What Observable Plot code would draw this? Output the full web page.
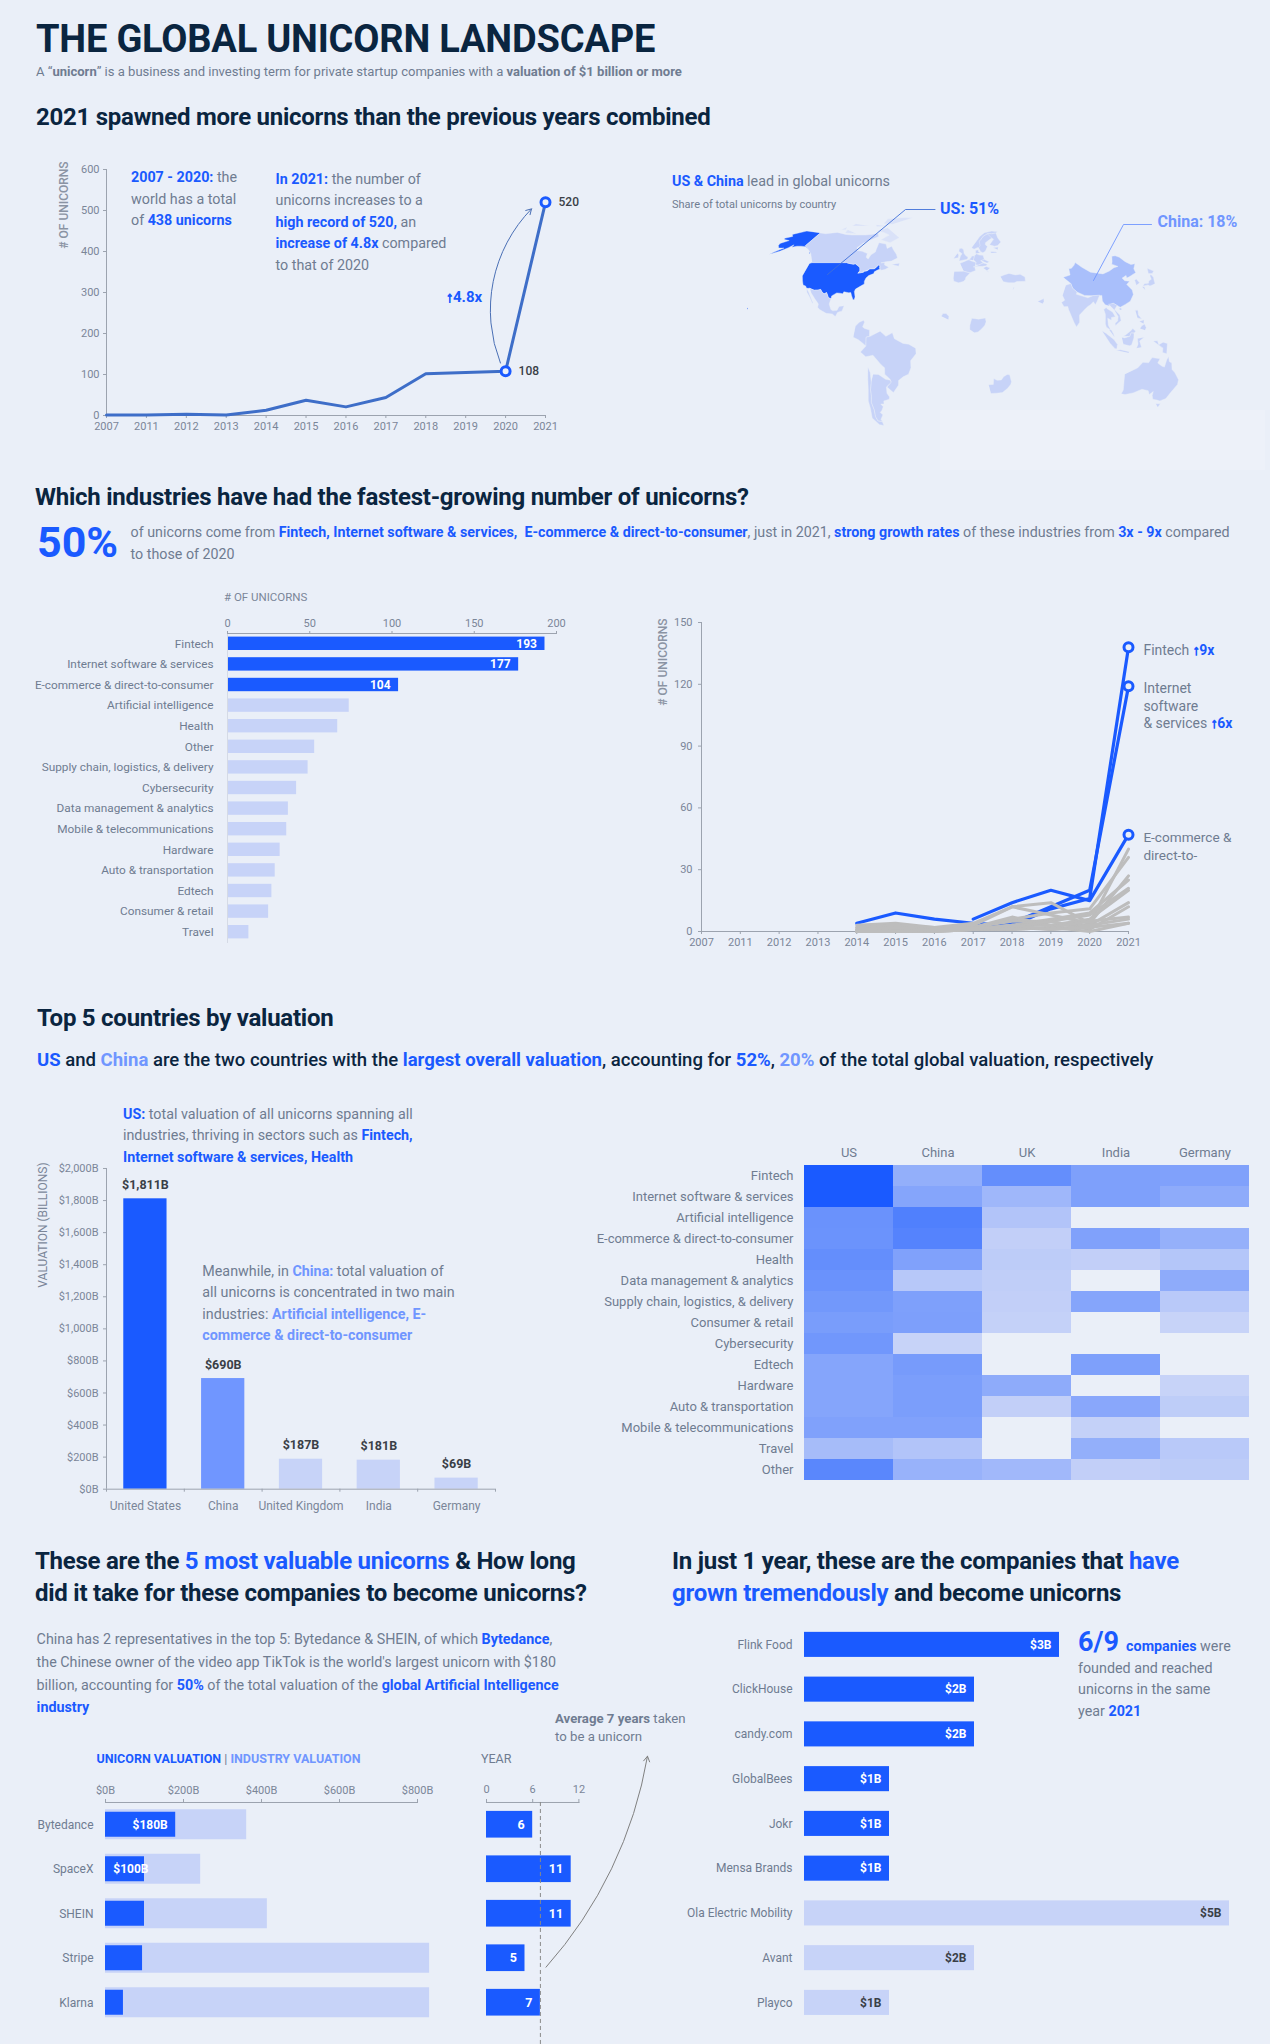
<!DOCTYPE html>
<html>
<head>
<meta charset="utf-8">
<script src="https://cdn.jsdelivr.net/npm/d3@7"></script>
<script src="https://cdn.jsdelivr.net/npm/@observablehq/plot@0.6"></script>
<style>
  html, body { margin: 0; padding: 0; background: #EAEFF8; }
  #page { position: relative; width: 1270px; height: 2044px; overflow: hidden; background: #EAEFF8; font-family: Roboto, sans-serif; color: #6F7C91; }
  .n { position: absolute; white-space: nowrap; }
  .b { color: #1A5AFF; font-weight: 700; }
  .l { color: #7096FF; font-weight: 700; }
  .g { font-weight: 700; }
  .ar { color: #1A5AFF; font-weight: 900; -webkit-text-stroke: 0.8px #1A5AFF; letter-spacing: -0.5px; }
  #page svg { position: absolute; overflow: visible; background: transparent; }
</style>
</head>
<body>
<div id="page"></div>
<script>
// ---------- colours ----------
const BLUE = "#1A5AFF", MID = "#7096FF", LIGHT = "#C7D3F8", BG = "#EAEFF8";
const GRAY = "#6F7C91", AXIS = "#9CA3AF", DARK = "#3A3F47", NAVY = "#0A2540";

// ---------- chart 1: unicorns per year ----------
const yearLabels = ["2007","2011","2012","2013","2014","2015","2016","2017","2018","2019","2020","2021"];
const unicornsPerYear = [1, 1, 3, 1, 13, 37, 21, 44, 102, 105, 108, 520];

// ---------- chart 2: unicorns by industry ----------
const industries = ["Fintech","Internet software & services","E-commerce & direct-to-consumer","Artificial intelligence","Health","Other","Supply chain, logistics, & delivery","Cybersecurity","Data management & analytics","Mobile & telecommunications","Hardware","Auto & transportation","Edtech","Consumer & retail","Travel"];
const industryCounts = [193, 177, 104, 74, 67, 53, 49, 42, 37, 36, 32, 29, 27, 25, 13];

// ---------- chart 3: yearly growth by industry, 2014..2021 ----------
const fintechGrowth  = [4, 9, 6, 4, 3, 11, 16, 138];
const internetGrowth = [null, null, null, 3, 4, 12, 20, 119];
const ecommerceGrowth = [null, null, null, 6, 14, 20, 15, 47];
const otherGrowth = [
  [2,3,1,3,12,14,4,40],[1,1,1,2,6,9,11,36],[3,4,2,4,12,8,4,27],[0,1,1,1,3,6,9,25],
  [0,0,1,2,5,5,8,21],[1,1,1,2,7,3,6,20],[0,1,0,1,3,3,3,14],[2,3,2,2,2,5,1,12],
  [0,0,0,1,1,2,5,7],[0,0,0,1,2,1,3,6],[1,2,1,2,1,2,0,4],[0,0,1,1,3,1,2,4]
];

// ---------- chart 4: valuation by country ----------
const countries = ["United States","China","United Kingdom","India","Germany"];
const countryValuation = [1811, 690, 187, 181, 69];
const countryGroup = ["top","mid","low","low","low"];
const valuationTicks = [0,200,400,600,800,1000,1200,1400,1600,1800,2000];

// ---------- chart 5: heatmap ----------
const heatRows = ["Fintech","Internet software & services","Artificial intelligence","E-commerce & direct-to-consumer","Health","Data management & analytics","Supply chain, logistics, & delivery","Consumer & retail","Cybersecurity","Edtech","Hardware","Auto & transportation","Mobile & telecommunications","Travel","Other"];
const heatCols = ["US","China","UK","India","Germany"];
const heatUS      = [100,100,54,53,57,54,49,45,50,38,38,38,41,19,63];
const heatChina   = [30,38,69,66,41,9,42,43,0,46,44,44,41,12,27];
const heatUK      = [57,23,12,3,6,4,3,2,null,null,33,3,null,null,22];
const heatIndia   = [42,42,null,41,3,null,38,null,null,42,null,36,2,30,3];
const heatGermany = [41,33,null,29,11,33,8,0,null,null,0,5,null,8,6];

// ---------- chart 6: top 5 unicorns ----------
const topUnicorns = ["Bytedance","SpaceX","SHEIN","Stripe","Klarna"];
const unicornValuation = [180, 100, 100, 95, 46];
const industryValuation = [362, 244, 415, 831, 831];
const yearsToUnicorn = [6, 11, 11, 5, 7];

// ---------- chart 7: one-year unicorns ----------
const fastCompanies = ["Flink Food","ClickHouse","candy.com","GlobalBees","Jokr","Mensa Brands","Ola Electric Mobility","Avant","Playco"];
const fastValuation = [3, 2, 2, 1, 1, 1, 5, 2, 1];
const fastFoundedSameYear = [true, true, true, true, true, true, false, false, false];

// ---------- map outlines, [lon, lat] ----------
const usaShapes = [
 [[-124.7,48.4],[-123,49],[-95.2,49],[-94.6,48.7],[-92,48.3],[-89.6,48],[-88,48.2],[-84.9,46.8],[-83.5,46],[-82.5,45.3],[-82.1,43.6],[-82.9,42.2],[-79,42.7],[-79,43.3],[-76.5,43.6],[-75,44.9],[-71.5,45],[-70.8,45.4],[-70.2,46.3],[-69.2,47.4],[-68,47.3],[-67.8,45.7],[-67,44.9],[-69,44],[-70.7,43],[-70.6,41.9],[-74,40.6],[-75.5,39],[-76,37],[-75.5,35.3],[-77.8,33.9],[-81,32],[-81.4,30.5],[-80.1,27],[-80.4,25.2],[-81.2,25.2],[-82.7,27.7],[-83.8,29.8],[-85.3,29.7],[-89,30.3],[-89.4,29],[-91.5,29.4],[-94,29.6],[-97.2,27.7],[-97.2,25.9],[-99.2,26.5],[-101.4,29.8],[-103,29],[-104.7,30],[-106.5,31.8],[-108.2,31.4],[-111,31.3],[-114.8,32.5],[-117.1,32.5],[-118.5,34],[-120.6,34.6],[-122.4,37.2],[-124.3,40.3],[-124.1,43]],
 [[-141,69.6],[-141,60.3],[-137.5,58.9],[-135,58],[-130.5,55],[-131.5,55],[-133,57],[-136,58.2],[-140,59.7],[-144,60],[-148,60],[-151.5,59.3],[-152,61],[-154,59],[-158,56.5],[-164,54.6],[-162,56],[-157.5,58.7],[-162,58.7],[-165,60.5],[-166,62],[-161,64],[-166.5,64.7],[-168,65.6],[-163,67],[-166,68.5],[-157,71],[-150,70.5]],
 [[-155.5,19],[-155,19.7],[-155.9,20.2],[-156,19.5]]
];
const chinaShapes = [
 [[73.7,39.5],[79.5,41],[80.3,45],[82.5,45.3],[85.5,47.2],[87.5,49],[91,46],[96,42.8],[105,41.7],[111,43.5],[116,45.7],[119.8,46.5],[116,48],[117.5,49.6],[120.5,53.2],[123.5,53.5],[126,52.5],[128,49.6],[131,47.7],[134.7,48.3],[131,45],[130.6,42.4],[128,41.5],[124.3,40],[121.5,39],[122,40.7],[118,39],[119,37.3],[122.5,37],[119.3,35],[121.8,31.5],[121.5,28.5],[118,24.3],[114,22.3],[110,20.5],[108,21.6],[105.5,23],[102,21.5],[99.5,22],[98,24.5],[98.5,28],[92,27.8],[86,28],[81,30.2],[78.5,32.5],[78,35.5],[74.5,37.2]],
 [[108.7,19.3],[110.5,20],[110.5,18.8],[109.5,18.2]]
];
const arcticShapes = [
 [[-105,69],[-117,69.5],[-118,72],[-105,73]],
 [[-120,72],[-125,72],[-122,74.3],[-116,73.3]],
 [[-62,82.5],[-72,83],[-90,81.5],[-88,77],[-78,76.5],[-70,80]],
 [[-80,75],[-92,74.5],[-95,76],[-82,76]],
 [[-100,75],[-118,75],[-118,77],[-100,77]],
 [[-62,66],[-68,62.5],[-78,64.5],[-73,68],[-80,70],[-88,71],[-80,73.7],[-70,71]]
];
const otherShapes = [
 // Canada
 [[-123,49],[-95.2,49],[-94.6,48.7],[-89.6,48],[-88,48.2],[-84.9,46.8],[-83.5,46],[-82.1,43.6],[-83,42.1],[-79,42.8],[-79.5,43.3],[-76.5,44],[-75,45],[-71.5,45],[-69.2,47.4],[-67.8,47],[-67,45],[-66,44],[-63,44.5],[-60.5,46],[-64.5,47.5],[-65,49],[-68,48.8],[-64.5,49.5],[-60,50],[-56,52],[-58,54.5],[-62,57.5],[-65,60],[-68,58.5],[-71,61.5],[-78,62.5],[-77,58],[-76.5,56],[-79,54],[-79.5,51.3],[-82,52.5],[-82.5,55],[-88,56.5],[-92.5,57],[-94.5,59],[-92,62],[-88,64],[-82,67],[-85,69.5],[-90,68.5],[-96,68],[-108,68],[-115,68.5],[-125,70],[-135,69],[-141,69.6],[-141,60.3],[-137.5,58.9],[-130,55],[-128,52]],
 [[-59,47.7],[-53,46.7],[-53,48.5],[-56,51.5]],
 // Mexico
 [[-114.8,32.5],[-111,31.3],[-108.2,31.4],[-106.5,31.8],[-104.7,30],[-103,29],[-101.4,29.8],[-99.2,26.5],[-97.2,25.9],[-97.8,22.5],[-96,19],[-94.5,18.2],[-91.5,18.5],[-90.5,21],[-87,21.5],[-88,18],[-89.2,17.8],[-91,17.2],[-92.2,14.6],[-94.5,16.2],[-99,16.6],[-104,19],[-105.7,20.5],[-105.5,22.5],[-109,26],[-112.5,29.5],[-113,31.5]],
 [[-117.1,32.5],[-115.8,30],[-112.5,26.5],[-110,23],[-109.5,23.2],[-111.5,26],[-114.5,30],[-114.8,32.4]],
 // South America
 [[-77.5,8.5],[-75,11],[-72,12.2],[-71.3,11],[-72.5,8],[-71,7],[-67.5,6],[-67.5,2],[-69.8,1.5],[-70,-4.2],[-72,-2.5],[-75.2,-0.2],[-78.8,1.5],[-77.3,4]],
 [[-60,5.2],[-56,2],[-51.5,4.3],[-50,0.5],[-44,-2.5],[-40,-3],[-35.2,-5.5],[-35,-9],[-39,-13.5],[-39,-18],[-41,-22],[-45,-23.7],[-48.5,-26],[-49,-29],[-53.5,-33.7],[-57.5,-30.2],[-54,-27],[-54.5,-25.3],[-58,-22],[-57.7,-18],[-60,-16],[-65.3,-10],[-70.5,-11],[-74,-8],[-70,-4.2],[-69.8,1.5],[-67,2],[-64,4]],
 [[-66.3,-22],[-62.5,-22.2],[-57.8,-25.3],[-54.5,-25.8],[-54,-27.2],[-58,-30.2],[-58.4,-34.2],[-57,-36.5],[-57.7,-38],[-62,-39],[-62.5,-41],[-65,-41],[-63.7,-42.7],[-65.5,-45],[-67.5,-46.5],[-66,-48],[-69,-51],[-68.4,-52.4],[-72,-52],[-72.5,-49],[-71.5,-45],[-71.8,-40],[-70.5,-36],[-70,-32],[-68.5,-27],[-68.3,-24.5]],
 [[-68.6,-52.7],[-65.2,-54.8],[-68.6,-55]],
 [[-69.5,-17.5],[-68.3,-21],[-68.3,-24.5],[-68.5,-27],[-70,-32],[-70.5,-36],[-71.8,-40],[-71.5,-45],[-72.5,-49],[-72,-52],[-68.6,-52.5],[-68.6,-55],[-72,-54.5],[-75.5,-50],[-74,-44],[-73.7,-39],[-71.6,-32],[-70.5,-25],[-70.3,-18.3]],
 // Europe
 [[-5.5,50.1],[1.3,51.2],[1.7,52.7],[0,53.5],[-1.5,55],[-2,57.6],[-3.5,58.6],[-5.5,58.5],[-6,56.5],[-3.2,54.9],[-4.5,53.3],[-5,51.7],[-3,51.3]],
 [[-10,51.7],[-6.3,52.2],[-6,54],[-7,55.2],[-10,54.2]],
 [[-1.7,43.4],[3,42.5],[7.5,43.8],[7,46],[8.2,49],[4.5,50],[2.5,51],[-1.5,49.6],[-4.7,48.5],[-1.2,46]],
 [[-9,43.2],[-1.8,43.4],[3.2,42.2],[0,39.5],[-0.5,38],[-2,36.8],[-5.5,36],[-9,37],[-9.5,38.7],[-8.8,41.5]],
 [[6,51],[7,53.5],[9,54.8],[11,54],[14.2,53.8],[15,51],[12.2,50.3],[13.8,48.7],[10,47.4],[7.6,47.6],[8.2,49],[6,50]],
 [[2.5,51],[4,52],[5,53.3],[7,53.3],[6,50.5],[4.5,50]],
 [[6,46.2],[10,46.6],[13,46.6],[16,46.9],[17,48],[13.8,48.7],[10,47.4],[7.6,47.6]],
 [[12.2,50.3],[15,51],[18.8,49.5],[17,48.7],[13.8,48.7]],
 [[13.6,45.5],[16,46.5],[19,45.5],[16,43.5],[18.4,42.4],[15,44.5]],
 [[8.2,55],[8.2,57],[10.5,57.6],[10.8,56],[12.5,55.5],[10,54.9]],
 [[11,58.9],[12.5,56.3],[14.3,55.5],[16.5,56.5],[18.8,59.8],[17.2,61],[17.5,62.5],[21.4,64.5],[24,65.8],[23.5,67.8],[20.5,69],[16,67],[14,65],[12,63.5],[12.5,60.5]],
 [[5,59],[7,58],[10.5,59.2],[11,58.9],[12.5,60.5],[12,63.5],[14,65],[16,67],[20.5,69],[25,69],[29,69.5],[31,70.4],[25.5,71],[18,69.8],[13,67],[10,64],[5,62]],
 [[21,61],[25,60],[28,60.5],[31.5,62.9],[29.5,66],[29,69.5],[25,69],[20.5,69],[24,65.8],[25.4,65],[21.5,63]],
 [[23.5,59],[28,59.4],[27.5,57.6],[24.5,58]],
 [[21,55.3],[21,56.4],[25,56.3],[26.6,55.6],[24,54]],
 // Middle East and Africa
 [[26.2,40],[29,41],[33,42],[38,41],[41.5,41.5],[44.8,39.7],[44.5,37],[38,36.8],[36,36],[32,36.1],[28,36.7],[26.5,38.5]],
 [[34.3,31.3],[35,33],[35.7,33],[35,29.6]],
 [[51.5,24.2],[56.2,26],[56,24],[55,22.7],[52,23]],
 [[-17.4,14.7],[-16.3,16.5],[-14,16.5],[-12,14.7],[-12.2,12.5],[-16.7,12.4]],
 [[2.7,6.4],[2.8,9],[3.6,11.7],[4.2,13.5],[9,12.9],[13.7,13.7],[14.2,11.3],[13.3,9],[11,6.7],[8.5,4.8],[6,4.3],[4.5,6.2]],
 [[16.5,-28.7],[19.9,-28.5],[20,-24.8],[22.5,-25.9],[25.5,-25.7],[27,-23.7],[29.5,-22.2],[31.3,-22.4],[32.9,-26.8],[32.5,-28.5],[30.5,-31],[27,-33.7],[22.5,-34.1],[18.5,-34.3],[18,-32]],
 // Asia
 [[74,34.5],[78,35.5],[78.5,32.5],[81,30.2],[80.2,28.7],[88,26.5],[89,26.8],[92,27.8],[97,28.2],[94,24],[92.5,22],[91.5,24],[89,22],[87,21],[85,19.5],[80.3,15.5],[80,11],[77.6,8],[76,11],[73,19],[72.7,21],[70,20.8],[68.5,23.5],[71,25],[70,28],[74,31]],
 [[130.9,34],[132.5,35.4],[136,35.8],[137,37.2],[139.5,38.2],[140,40.5],[141.4,41.3],[142,39.5],[141,37],[140.7,35.5],[138.5,34.7],[136,34],[135,34.6],[132,33.9]],
 [[130,33.5],[131.7,33.5],[131.3,31.3],[130.2,31.3]],
 [[140,42],[141.7,45.3],[145.3,43.5],[143,42],[141,42.5]],
 [[126.2,34.5],[126.7,37.7],[128.4,38.5],[129.4,36],[129,35]],
 [[98,10],[98.5,8],[100.5,6.5],[101.5,6],[100,9],[100,13.5],[102.5,12.2],[102.7,14],[105.5,14.5],[104,17.5],[100.5,19.5],[100,20.3],[98,19],[98.7,16],[99,12]],
 [[102.2,22.4],[105.5,23],[108,21.6],[105.7,19],[108.8,15.5],[109.3,12],[106.7,10.2],[105,8.7],[104.9,10.3],[106.8,11.7],[107.5,14.5],[105.5,18.5],[103,20.5]],
 [[100.2,6.4],[102,6.1],[103.4,3.5],[104,1.4],[101,3]],
 [[109.6,2],[111.3,2.5],[113.5,4.2],[115.5,5.5],[117,7],[119,5.2],[117.7,4.2],[115.7,4.2],[114.7,2],[111,1]],
 [[95.3,5.5],[98,4],[103.5,0],[106,-3],[105.8,-5.8],[104.5,-5.8],[101,-2.5],[98,1.5]],
 [[105.2,-6.8],[108.5,-6.5],[114.5,-7.7],[114.3,-8.6],[108,-7.8]],
 [[109,1.5],[111,1],[114.7,2],[115.7,4.2],[117.7,4],[117.5,1],[116,-3.5],[114.5,-4],[110.2,-3],[109,-0.5]],
 [[119.5,-5.5],[120.5,-3],[120,0.7],[124.8,1.5],[121.5,-1],[123,-5],[121.5,-4.5]],
 [[131,-1],[134,-0.8],[135,-3.3],[138,-1.7],[141,-2.6],[141,-9],[138,-8.3],[138,-5.5],[133,-4]],
 [[120.3,18.5],[122.2,18.5],[122,15.5],[124,13],[121,13.7],[120,16]],
 [[122,7],[123.5,8.7],[125.5,9.8],[126.5,7.5],[125.5,5.8],[124,6.5]],
 [[122,11.5],[125.5,12.5],[125,10],[123,9.5]],
 // Australia
 [[113.5,-22],[114,-26],[115.5,-32],[115,-34.5],[118,-35],[123.5,-33.9],[129,-31.6],[134,-32.5],[136,-35],[138,-33],[138.5,-35.5],[140.5,-38],[144,-38.5],[146.5,-39],[150,-37.5],[151,-34],[153.5,-28.5],[153,-25.5],[149,-21],[146.5,-19],[145.4,-15],[143.5,-14],[142.5,-10.8],[141.5,-13],[140.8,-17.5],[139,-17],[135.5,-15],[136.7,-12.2],[131,-11.5],[129,-14.8],[125,-14.5],[122,-18],[117,-20.7]],
 [[144.7,-40.8],[148.3,-40.9],[148,-43],[146,-43.6]]
];
// Robinson projection table, every 5 degrees of latitude
const robinsonX = [1,.9986,.9954,.99,.9822,.973,.96,.9427,.9216,.8962,.8679,.835,.7986,.7597,.7186,.6732,.6213,.5722,.5322];
const robinsonY = [0,.062,.124,.186,.248,.31,.372,.434,.4958,.5571,.6176,.6769,.7346,.7903,.8435,.8936,.9394,.9761,1];

// ---------- helpers ----------
const page = document.getElementById("page");
const FONT = "Roboto, sans-serif";

function note(x, y, html, size, opts = {}) {
  const lh = opts.lh ?? Math.round(size * 1.5);
  const el = document.createElement("div");
  el.className = "n";
  el.style.cssText = `left:${x}px;top:${y - lh / 2}px;font-size:${size}px;line-height:${lh}px;color:${opts.color ?? GRAY};font-weight:${opts.weight ?? 400};letter-spacing:${opts.ls ?? 0}px;${opts.css ?? ""}`;
  el.innerHTML = html;
  page.appendChild(el);
  return el;
}

function chart({x0, x1, y0, y1, ml = 70, mr = 40, mt = 40, mb = 40, marks, fontSize = 11, ...rest}) {
  const svg = Plot.plot({
    width: x1 - x0 + ml + mr,
    height: y1 - y0 + mt + mb,
    marginLeft: ml, marginRight: mr, marginTop: mt, marginBottom: mb,
    style: {fontFamily: FONT, fontSize: fontSize + "px", background: "transparent", overflow: "visible"},
    marks,
    ...rest
  });
  svg.style.left = (x0 - ml) + "px";
  svg.style.top = (y0 - mt) + "px";
  page.appendChild(svg);
  return svg;
}
const axisStyle = {stroke: AXIS, fill: "#7B8698", label: null, tickSize: 3};
const HEAD = {color: NAVY, weight: 700, ls: -0.25};

// ---------- header ----------
note(36, 39, "THE GLOBAL UNICORN LANDSCAPE", 38, {color: NAVY, weight: 700, lh: 44, ls: -0.2});
note(36, 72, `A “<b class="g">unicorn</b>” is a business and investing term for private startup companies with a <b class="g">valuation of $1 billion or more</b>`, 13.05);
note(36, 117, "2021 spawned more unicorns than the previous years combined", 24, HEAD);

// ---------- chart 1 ----------
chart({x0: 106, x1: 545, y0: 169, y1: 415, ml: 60,
  x: {type: "linear", domain: [0, 11], axis: null},
  y: {domain: [0, 600], axis: null},
  marks: [
    Plot.ruleY([0], {stroke: AXIS}),
    Plot.ruleX([0], {stroke: AXIS}),
    Plot.axisX({...axisStyle, ticks: d3.range(12), tickFormat: i => yearLabels[i], tickPadding: 4}),
    Plot.axisY({...axisStyle, ticks: [0,100,200,300,400,500,600], tickPadding: 4}),
    Plot.arrow([{a: 9.87, b: 128, c: 10.65, e: 504}], {x1: "a", y1: "b", x2: "c", y2: "e", stroke: "#4A6FB5", strokeWidth: 1, bend: 33, headLength: 9}),
    Plot.line(unicornsPerYear, {x: (d, i) => i, y: d => d, stroke: "#3E6EC8", strokeWidth: 3}),
    Plot.dot(unicornsPerYear.slice(10), {x: (d, i) => 10 + i, y: d => d, r: 4.5, fill: BG, stroke: BLUE, strokeWidth: 3}),
    Plot.text(unicornsPerYear.slice(10), {x: (d, i) => 10 + i, y: d => d, text: d => String(d), dx: 13, textAnchor: "start", fill: DARK, fontWeight: 500, fontSize: 12})
  ]
});
note(64, 205, "# OF UNICORNS", 12, {weight: 500, color: "#8A93A3", lh: 14, css: "transform:translate(-50%,0) rotate(-90deg);"});
note(131, 178, `<span class="b">2007 - 2020:</span> the<br>world has a total<br>of <span class="b">438 unicorns</span>`, 14.3, {lh: 21.5, css: "top:167.25px;"});
note(275.5, 179, `<span class="b">In 2021:</span> the number of<br>unicorns increases to a<br><span class="b">high record of 520,</span> an<br><span class="b">increase of 4.8x</span> compared<br>to that of 2020`, 14.3, {lh: 21.4, css: "top:169px;"});
note(446, 297, `<span class="ar">↑</span>4.8x`, 15, {color: BLUE, weight: 700});

// ---------- map ----------
const patch = document.createElement("div");
patch.style.cssText = "position:absolute;left:940px;top:410px;width:325px;height:60px;background:#EDF1F9;";
page.appendChild(patch);

function robinson(lon, lat) {
  const a = Math.min(Math.abs(lat) / 5, 17.999), i = Math.floor(a), t = a - i;
  const fx = robinsonX[i] + (robinsonX[i + 1] - robinsonX[i]) * t;
  const fy = robinsonY[i] + (robinsonY[i + 1] - robinsonY[i]) * t;
  return [305.4 + 1.43 * lon * fx, 139 - 127 * fy * Math.sign(lat)];
}
const landFeatures = [["us", usaShapes], ["china", chinaShapes], ["arctic", arcticShapes], ["other", otherShapes]]
  .flatMap(([share, shapes]) => shapes.map(ring => ({type: "Feature", properties: {share}, geometry: {type: "Polygon", coordinates: [ring]}})));
const mapPlot = Plot.plot({
  width: 610, height: 270, margin: 0,
  style: {background: "transparent", overflow: "visible"},
  projection: d3.geoTransform({point(lon, lat) { const p = robinson(lon, lat); this.stream.point(p[0], p[1]); }}),
  color: {domain: ["us", "china", "arctic", "other"], range: [BLUE, "#A9BFFB", "#DAE2F8", LIGHT]},
  marks: [Plot.geo(landFeatures, {fill: d => d.properties.share, stroke: BG, strokeWidth: 0.4})]
});
mapPlot.style.left = "660px"; mapPlot.style.top = "200px";
page.appendChild(mapPlot);
note(672, 181.5, `<span class="b">US &amp; China</span> lead in global unicorns`, 14.3);
note(672, 204, "Share of total unicorns by country", 11);
note(940, 209, "US: 51%", 16, {color: BLUE, weight: 700});
note(1157.5, 222, "China: 18%", 16, {color: MID, weight: 700});

// ---------- section 2 ----------
note(35, 497, "Which industries have had the fastest-growing number of unicorns?", 24, HEAD);
note(37, 542, "50%", 43, {color: BLUE, weight: 700, lh: 50});
note(130.6, 531.5, `of unicorns come from <span class="b">Fintech, Internet software &amp; services, &nbsp;E-commerce &amp; direct-to-consumer</span>, just in 2021, <span class="b">strong growth rates</span> of these industries from <span class="b">3x - 9x</span> compared<br>to those of 2020`, 14.27, {lh: 22.5, css: "top:520.5px;"});

// ---------- chart 2 ----------
const industryRows = industries.map((name, i) => ({name, count: industryCounts[i], top: i < 3}));
chart({x0: 226.5, x1: 555.5, y0: 633, y1: 942, ml: 220,
  x: {domain: [0, 200], axis: null},
  y: {domain: industries, paddingInner: 0.35, paddingOuter: 0.175, round: false, axis: null},
  color: {domain: [true, false], range: [BLUE, LIGHT]},
  marks: [
    Plot.barX(industryRows, {x: "count", y: "name", fill: "top"}),
    Plot.frame({anchor: "top", stroke: AXIS}),
    Plot.frame({anchor: "left", stroke: "#D5DAE5"}),
    Plot.axisX({...axisStyle, anchor: "top", ticks: [0,50,100,150,200], tickPadding: 4}),
    Plot.axisY({anchor: "left", tickSize: 0, tickPadding: 14, fill: GRAY, label: null, fontSize: 11.8}),
    Plot.text(industryRows.filter(d => d.top), {x: "count", y: "name", text: d => String(d.count), dx: -8, textAnchor: "end", fill: "white", fontWeight: 700, fontSize: 12})
  ]
});
note(224, 597, "# OF UNICORNS", 11.5, {color: "#7B8698"});

// ---------- chart 3 ----------
const growthSeries = otherGrowth.map((vals, k) => ({name: "o" + k, vals}));
const blueSeries = [
  {name: "Fintech", vals: fintechGrowth},
  {name: "Internet", vals: internetGrowth},
  {name: "E-commerce", vals: ecommerceGrowth}
];
const toLong = s => s.flatMap(({name, vals}) => vals.map((v, i) => ({name, i: i + 4, v})).filter(d => d.v != null));
chart({x0: 701, x1: 1128, y0: 622.3, y1: 931.3, ml: 50,
  x: {type: "linear", domain: [0, 11], axis: null},
  y: {domain: [0, 150], axis: null},
  marks: [
    Plot.ruleY([0], {stroke: AXIS}),
    Plot.ruleX([0], {stroke: AXIS}),
    Plot.axisX({...axisStyle, ticks: d3.range(12), tickFormat: i => yearLabels[i], tickPadding: 4}),
    Plot.axisY({...axisStyle, ticks: [0,30,60,90,120,150], tickPadding: 6}),
    Plot.line(toLong(blueSeries), {x: "i", y: "v", z: "name", stroke: BLUE, strokeWidth: 3.2}),
    Plot.line(toLong(growthSeries), {x: "i", y: "v", z: "name", stroke: "#BDBDBD", strokeWidth: 3}),
    Plot.dot(blueSeries, {x: () => 11, y: d => d.vals[7], r: 4.5, fill: BG, stroke: BLUE, strokeWidth: 3})
  ]
});
note(663, 662, "# OF UNICORNS", 12, {weight: 500, color: "#8A93A3", lh: 14, css: "transform:translate(-50%,0) rotate(-90deg);"});
note(1143.4, 650, `Fintech <span class="b"><span class="ar">↑</span>9x</span>`, 14);
note(1143.4, 689, `Internet<br>software<br>&amp; services <span class="b"><span class="ar">↑</span>6x</span>`, 14, {lh: 17.7, css: "top:680px;"});
note(1143.4, 837, `E-commerce &amp;<br>direct-to-`, 13.6, {lh: 18, css: "top:828px;"});

// ---------- section 3 ----------
note(37, 1018, "Top 5 countries by valuation", 24, HEAD);
note(37, 1060, `<span class="b">US</span> and <span class="l">China</span> are the two countries with the <span class="b">largest overall valuation</span>, accounting for <span class="b">52%</span>, <span class="l">20%</span> of the total global valuation, respectively`, 18.55, {color: NAVY, weight: 500});

// ---------- chart 4 ----------
const countryRows = countries.map((name, i) => ({i, name, value: countryValuation[i], group: countryGroup[i]}));
chart({x0: 106, x1: 495, y0: 1168.3, y1: 1489,
  x: {type: "linear", domain: [0, 5], axis: null},
  y: {domain: [0, 2000], axis: null},
  color: {domain: ["top", "mid", "low"], range: [BLUE, MID, LIGHT]},
  marks: [
    Plot.rectY(countryRows, {x1: d => d.i + 0.222, x2: d => d.i + 0.778, y: "value", fill: "group"}),
    Plot.ruleY([0], {stroke: AXIS}),
    Plot.ruleX([0], {stroke: AXIS}),
    Plot.axisX({...axisStyle, ticks: d3.range(6), tickFormat: () => ""}),
    Plot.axisY({...axisStyle, ticks: valuationTicks, tickFormat: d => "$" + d3.format(",")(d) + "B", tickPadding: 5}),
    Plot.text(countryRows, {x: d => d.i + 0.5, y: "value", text: d => "$" + d3.format(",")(d.value) + "B", dy: -14, fill: DARK, fontWeight: 700, fontSize: 12.5}),
    Plot.text(countryRows, {x: d => d.i + 0.5, y: () => 0, text: "name", dy: 17, fill: "#7B8698", fontSize: 12})
  ]
});
note(43, 1225, "VALUATION (BILLIONS)", 12, {color: "#7B8698", lh: 14, css: "transform:translate(-50%,0) rotate(-90deg);"});
note(123, 1114.3, `<span class="b">US:</span> total valuation of all unicorns spanning all<br>industries, thriving in sectors such as <span class="b">Fintech,</span><br><span class="b">Internet software &amp; services, Health</span>`, 14.3, {lh: 21.5, css: "top:1103.5px;"});
note(202.3, 1271.7, `Meanwhile, in <span class="l">China:</span> total valuation of<br>all unicorns is concentrated in two main<br>industries: <span class="l">Artificial intelligence, E-</span><br><span class="l">commerce &amp; direct-to-consumer</span>`, 14.3, {lh: 21.3, css: "top:1261px;"});

// ---------- chart 5: heatmap ----------
const heatColumns = [heatUS, heatChina, heatUK, heatIndia, heatGermany];
const heatCells = heatCols.flatMap((col, c) => heatRows.map((row, r) => ({col, row, v: heatColumns[c][r]}))).filter(d => d.v != null);
chart({x0: 804, x1: 1249, y0: 1165, y1: 1480, ml: 230, mr: 20,
  x: {domain: heatCols, padding: 0, round: false, axis: null},
  y: {domain: heatRows, padding: 0, round: false, axis: null},
  color: {type: "linear", domain: [0, 100], range: [LIGHT, BLUE]},
  marks: [
    Plot.cell(heatCells, {x: "col", y: "row", fill: "v"}),
    Plot.axisX({anchor: "top", tickSize: 0, tickPadding: 9, fill: GRAY, label: null, fontSize: 13}),
    Plot.axisY({anchor: "left", tickSize: 0, tickPadding: 11, fill: GRAY, label: null, fontSize: 13})
  ]
});

// ---------- section 4 ----------
note(35, 1560.7, `These are the <span class="b">5 most valuable unicorns</span> &amp; How long<br>did it take for these companies to become unicorns?`, 24, {...HEAD, lh: 32, css: "top:1544.7px;"});
note(36.6, 1639.3, `China has 2 representatives in the top 5: Bytedance &amp; SHEIN, of which <span class="b">Bytedance</span>,<br>the Chinese owner of the video app TikTok is the world's largest unicorn with $180<br>billion, accounting for <span class="b">50%</span> of the total valuation of the <span class="b">global Artificial Intelligence</span><br><span class="b">industry</span>`, 14.3, {lh: 22.8, css: "top:1628px;"});
note(96.4, 1758, `<span class="b">UNICORN VALUATION</span> | <span class="l">INDUSTRY VALUATION</span>`, 12.5);
note(481, 1758, "YEAR", 12.5);
note(555, 1719, `<b class="g">Average 7 years</b> taken<br>to be a unicorn`, 13.2, {lh: 18, css: "top:1710px;"});

// ---------- chart 6 ----------
const topRows = topUnicorns.map((name, i) => ({name, own: unicornValuation[i], industry: industryValuation[i], years: yearsToUnicorn[i]}));
chart({x0: 104.5, x1: 416.5, y0: 1802, y1: 2024.5, ml: 90, mr: 60,
  x: {domain: [0, 800], axis: null},
  y: {domain: topUnicorns, paddingInner: 0.326, paddingOuter: 0.163, round: false, axis: null},
  marks: [
    Plot.barX(topRows, {x: "industry", y: "name", fill: LIGHT}),
    Plot.barX(topRows, {x: "own", y: "name", fill: BLUE, insetTop: 2.5, insetBottom: 2.5}),
    Plot.frame({anchor: "top", stroke: AXIS}),
    Plot.axisX({...axisStyle, anchor: "top", ticks: [0,200,400,600,800], tickFormat: d => "$" + d + "B", tickPadding: 5, tickSize: 4}),
    Plot.axisY({anchor: "left", tickSize: 0, tickPadding: 12, fill: GRAY, label: null, fontSize: 12}),
    Plot.text(topRows.slice(0, 1), {x: "own", y: "name", text: d => "$" + d.own + "B", dx: -8, textAnchor: "end", fill: "white", fontWeight: 700, fontSize: 12}),
    Plot.text(topRows.slice(1, 2), {x: "own", y: "name", text: d => "$" + d.own + "B", dx: 4, textAnchor: "end", fill: "white", fontWeight: 700, fontSize: 12})
  ]
});
chart({x0: 486, x1: 578.4, y0: 1802, y1: 2024.5, ml: 20, mr: 20,
  x: {domain: [0, 12], axis: null},
  y: {domain: topUnicorns, paddingInner: 0.4, paddingOuter: 0.2, round: false, axis: null},
  marks: [
    Plot.barX(topRows, {x: "years", y: "name", fill: BLUE}),
    Plot.frame({anchor: "top", stroke: AXIS}),
    Plot.axisX({...axisStyle, anchor: "top", ticks: [0,6,12], tickPadding: 5, tickSize: 4}),
    Plot.ruleX([7], {stroke: "#8A8A8A", strokeDasharray: "4,3", insetBottom: -20}),
    Plot.text(topRows, {x: "years", y: "name", text: d => String(d.years), dx: -8, textAnchor: "end", fill: "white", fontWeight: 700, fontSize: 12.5})
  ]
});

// ---------- section 5 ----------
note(672, 1560.7, `In just 1 year, these are the companies that <span class="b">have</span><br><span class="b">grown tremendously</span> and become unicorns`, 24, {...HEAD, lh: 32, css: "top:1544.7px;"});
note(1078, 1643, `<span class="b" style="font-size:27px">6/9</span> <span class="b">&nbsp;companies</span> were<br>founded and reached<br>unicorns in the same<br>year <span class="b">2021</span>`, 14.3, {lh: 21.5, css: "top:1632px;"});

// ---------- chart 7 ----------
const fastRows = fastCompanies.map((name, i) => ({name, value: fastValuation[i], same: fastFoundedSameYear[i]}));
chart({x0: 804, x1: 1229, y0: 1621.6, y1: 2024.4, ml: 150, mr: 20,
  x: {domain: [0, 5], axis: null},
  y: {domain: fastCompanies, paddingInner: 0.44, paddingOuter: 0.22, round: false, axis: null},
  color: {domain: [true, false], range: [BLUE, LIGHT]},
  marks: [
    Plot.barX(fastRows, {x: "value", y: "name", fill: "same"}),
    Plot.axisY({anchor: "left", tickSize: 0, tickPadding: 12, fill: GRAY, label: null, fontSize: 12}),
    Plot.text(fastRows, {x: "value", y: "name", text: d => "$" + d.value + "B", dx: -8, textAnchor: "end", fill: d => d.same ? "white" : DARK, fontWeight: 700, fontSize: 12})
  ]
});

// ---------- annotation layer ----------
const annotation = Plot.plot({
  width: 1270, height: 2044, margin: 0,
  x: {type: "identity", axis: null}, y: {type: "identity", axis: null},
  style: {background: "transparent", overflow: "visible", pointerEvents: "none"},
  marks: [
    Plot.line([[934.5,209],[905,209],[827,274]], {stroke: "#3F6FD8", strokeWidth: 0.9}),
    Plot.line([[1151,224],[1123,224],[1093,280]], {stroke: MID, strokeWidth: 0.9}),
    Plot.arrow([{a: 545.5, b: 1966.7, c: 647, e: 1755.7}], {x1: "a", y1: "b", x2: "c", y2: "e", stroke: "#808080", strokeWidth: 1, bend: -16, headLength: 9})
  ]
});
annotation.style.left = "0"; annotation.style.top = "0";
page.appendChild(annotation);
</script>
</body>
</html>
